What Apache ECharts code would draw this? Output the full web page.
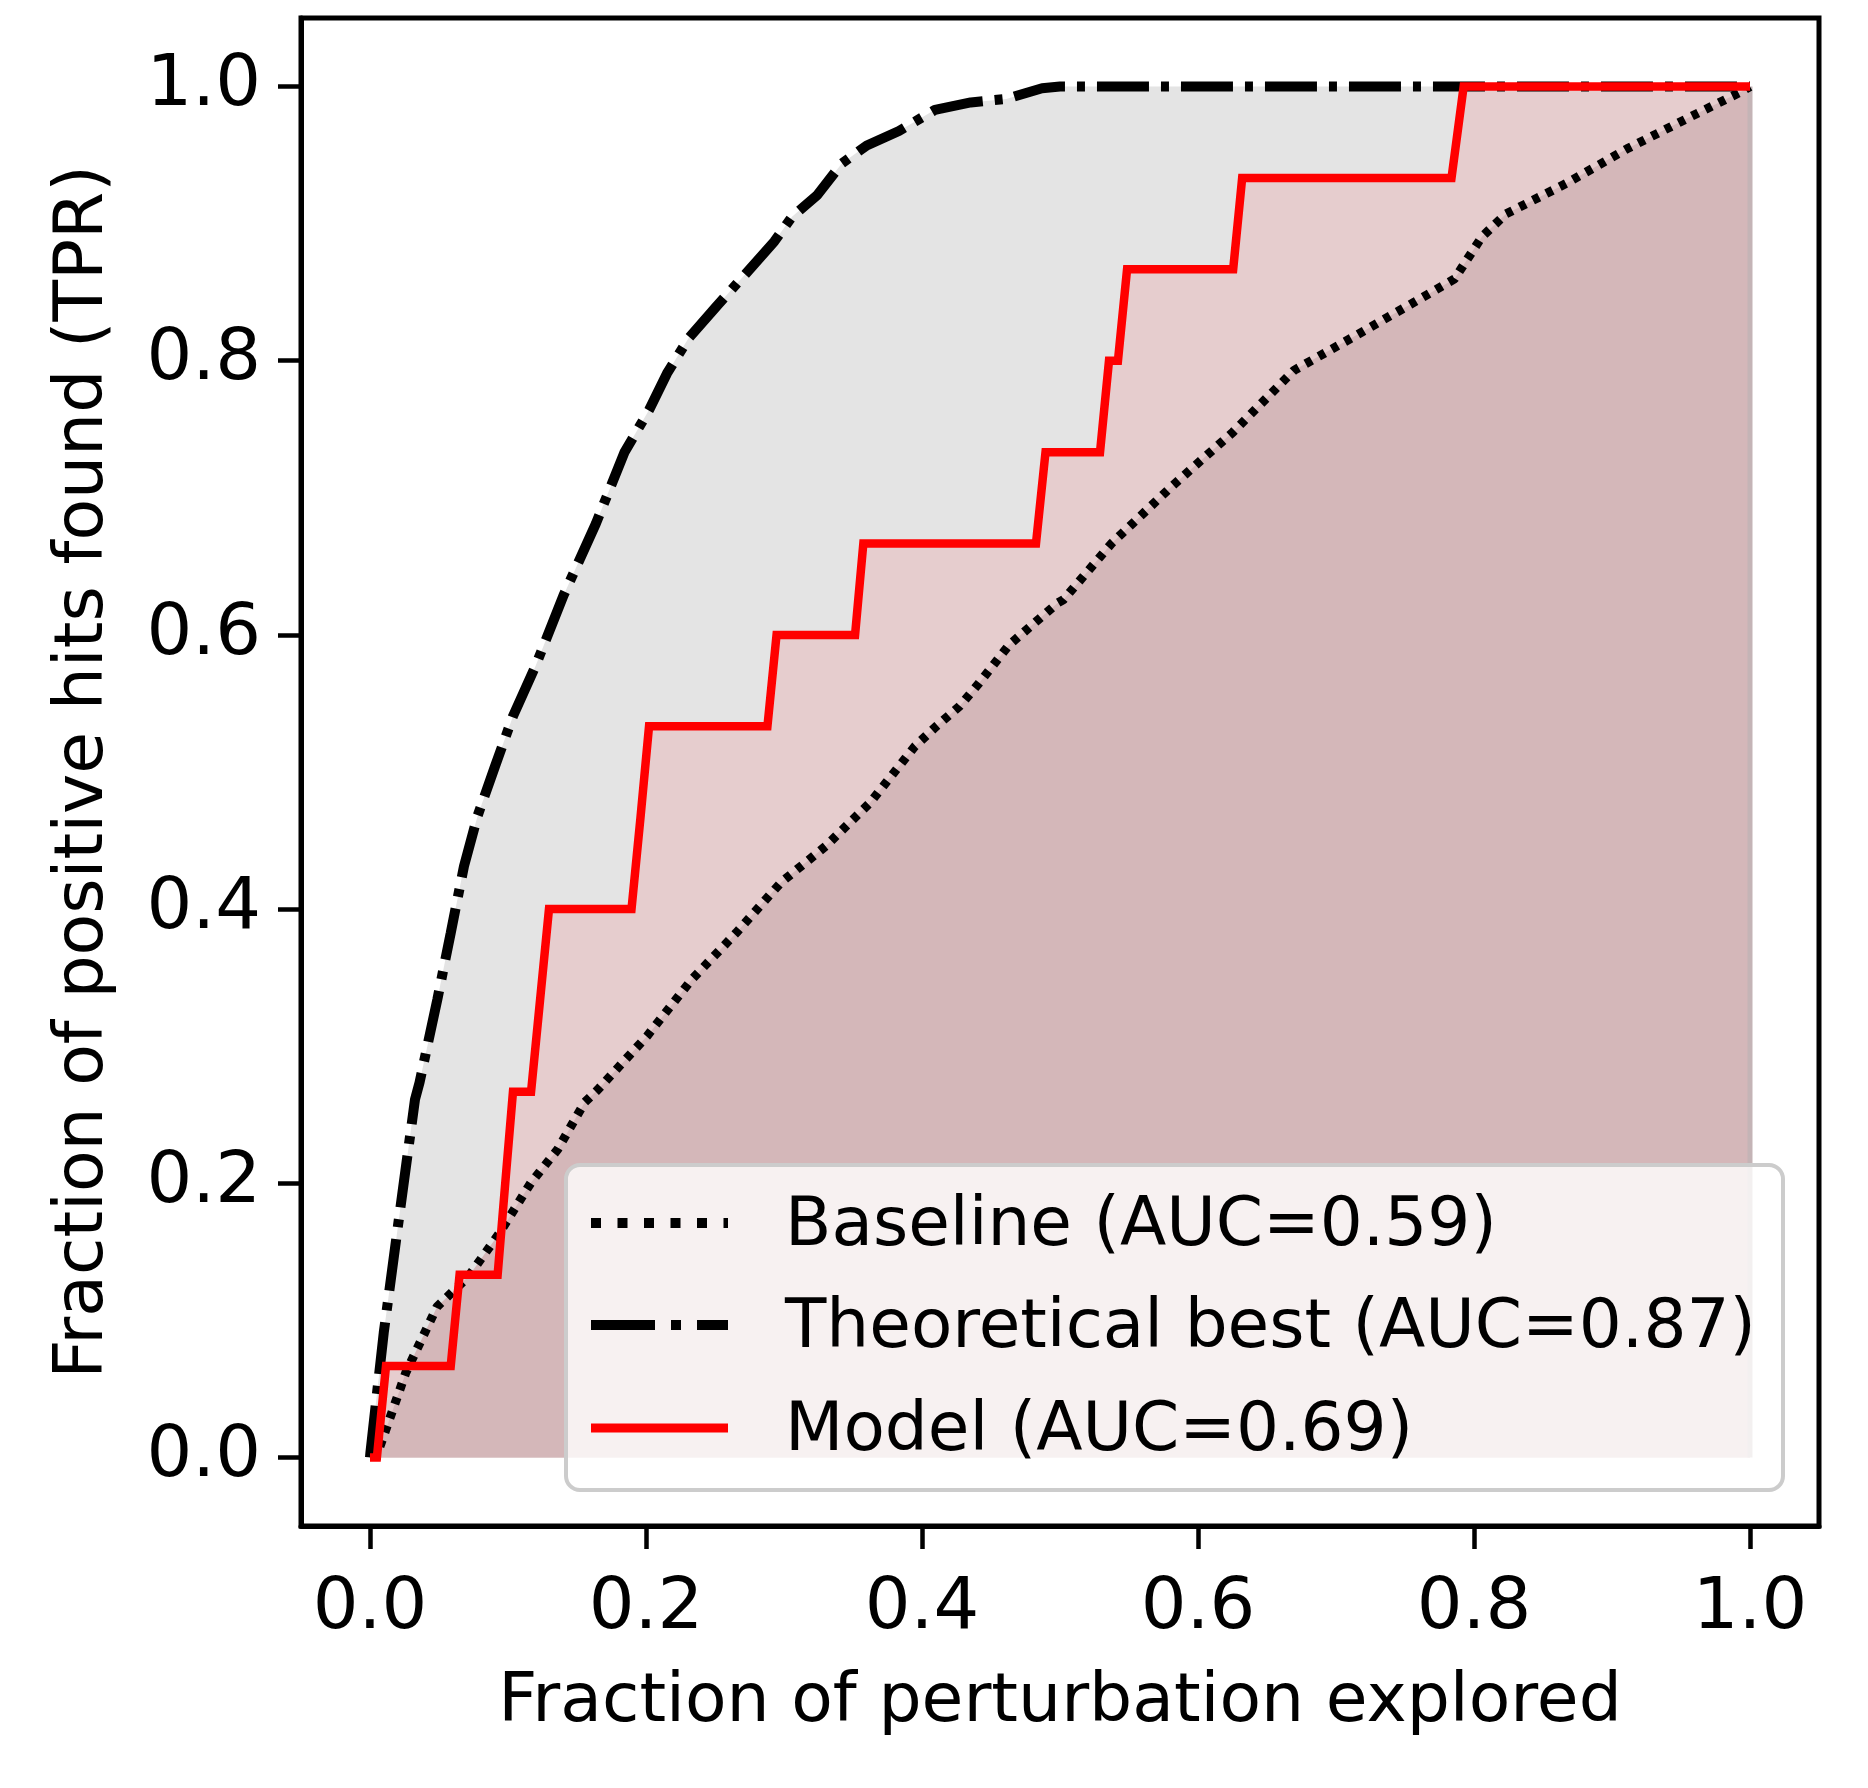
<!DOCTYPE html>
<html>
<head>
<meta charset="utf-8">
<script src="https://cdn.jsdelivr.net/npm/echarts@6/dist/echarts.min.js"></script>
<style>
html,body{margin:0;padding:0;background:#fff;}
#chart{width:1868px;height:1788px;}
</style>
</head>
<body>
<div id="chart"></div>
<script>
// ---- data ----
const xTicks = [0, 0.2, 0.4, 0.6, 0.8, 1.0];
const yTicks = [0, 0.2, 0.4, 0.6, 0.8, 1.0];

const baselineX = [0, 0.0065, 0.026, 0.0486, 0.0714, 0.094, 0.1167, 0.136, 0.1555, 0.1652, 0.2007, 0.2332, 0.2653, 0.2978, 0.3302, 0.3623, 0.3949, 0.410, 0.4273, 0.4412, 0.463, 0.4983, 0.5026, 0.5377, 0.5817, 0.6254, 0.6696, 0.7134, 0.7573, 0.7859, 0.8057, 0.8232, 0.8672, 0.9109, 0.955, 0.9942, 1.0];
const baselineY = [0, 0.006, 0.062, 0.110, 0.132, 0.164, 0.2005, 0.2247, 0.259, 0.2684, 0.3073, 0.3487, 0.3826, 0.4194, 0.4459, 0.4775, 0.5188, 0.533, 0.548, 0.5646, 0.5926, 0.6233, 0.6258, 0.6671, 0.709, 0.748, 0.793, 0.8178, 0.8431, 0.8597, 0.8904, 0.9071, 0.9295, 0.9546, 0.977, 0.9965, 1.0];

const bestX = [0, 0.0003, 0.00996, 0.0196, 0.0326, 0.0359, 0.0488, 0.0585, 0.0681, 0.0779, 0.0906, 0.1036, 0.1199, 0.1403, 0.1636, 0.1843, 0.2024, 0.2152, 0.2309, 0.2514, 0.2722, 0.293, 0.3058, 0.324, 0.342, 0.360, 0.3833, 0.4094, 0.4353, 0.4611, 0.487, 0.500, 1.0];
const bestY = [0, 0.0036, 0.091, 0.164, 0.2611, 0.2735, 0.3341, 0.3826, 0.4313, 0.4678, 0.5042, 0.5407, 0.5772, 0.629, 0.681, 0.733, 0.7644, 0.7907, 0.8165, 0.840, 0.8634, 0.887, 0.905, 0.9207, 0.944, 0.957, 0.9676, 0.983, 0.9884, 0.991, 0.9988, 1.0, 1.0];

const modelX = [0, 0.005, 0.0116, 0.0585, 0.0649, 0.0925, 0.098, 0.1036, 0.1167, 0.1232, 0.1297, 0.1895, 0.196, 0.2022, 0.288, 0.2946, 0.3515, 0.3575, 0.4826, 0.4895, 0.529, 0.5355, 0.542, 0.5486, 0.6255, 0.632, 0.7837, 0.7925, 1.0];
const modelY = [0, 0, 0.0667, 0.0667, 0.1333, 0.1333, 0.2, 0.2667, 0.2667, 0.3333, 0.4, 0.4, 0.4667, 0.5333, 0.5333, 0.6, 0.6, 0.6667, 0.6667, 0.7333, 0.7333, 0.8, 0.8, 0.8667, 0.8667, 0.9333, 0.9333, 1.0, 1.0];

const edgeX = [1.0, 1.0];
const edgeY = [0, 1.0];

const seriesNames = ['Baseline (AUC=0.59)', 'Theoretical best (AUC=0.87)', 'Model (AUC=0.69)'];
const xTitle = 'Fraction of perturbation explored';
const yTitle = 'Fraction of positive hits found (TPR)';

// ---- build ----
const zip = (xs, ys) => xs.map((x, i) => [x, ys[i]]);
const FONT = 'DejaVu Sans';
const dottedPlot = [7, 8];
const dashDotPlot = [52, 12, 8, 12];
const dottedLegend = [10, 16.5];
const dashDotLegend = [64, 16, 10, 16];

const chart = echarts.init(document.getElementById('chart'), null, {renderer: 'canvas'});

function fill(name, xs, ys, color, z) {
  return {
    name: name, type: 'line', data: zip(xs, ys), symbol: 'none', showSymbol: false,
    lineStyle: {width: 0, opacity: 0}, areaStyle: {color: color, opacity: 1, origin: 'auto'},
    z: z, silent: true, animation: false
  };
}

// legend box (drawn with graphic elements)
const LG = {x: 566, y: 1165, w: 1217, h: 325, hx1: 591, hx2: 728, tx: 785,
  handleRows: [1223, 1325, 1428], textRows: [1227, 1329, 1432]};
const legendStyles = [
  {stroke: '#000', lineWidth: 10, lineDash: dottedLegend},
  {stroke: '#000', lineWidth: 10, lineDash: dashDotLegend},
  {stroke: '#ff0000', lineWidth: 9}
];
const graphics = [{
  type: 'rect', z: 100, silent: true,
  shape: {x: LG.x, y: LG.y, width: LG.w, height: LG.h, r: 14},
  style: {fill: 'rgba(255,255,255,0.8)', stroke: '#cccccc', lineWidth: 4}
}];
seriesNames.forEach((nm, i) => {
  graphics.push({
    type: 'line', z: 101, silent: true,
    shape: {x1: LG.hx1, y1: LG.handleRows[i], x2: LG.hx2, y2: LG.handleRows[i]},
    style: Object.assign({lineCap: 'butt'}, legendStyles[i])
  });
  graphics.push({
    type: 'text', z: 101, silent: true,
    style: {text: nm, x: LG.tx, y: LG.textRows[i], fontSize: 67.7, fontFamily: FONT, fill: '#000',
      verticalAlign: 'middle', textVerticalAlign: 'middle', align: 'left'}
  });
});

const option = {
  backgroundColor: '#ffffff',
  animation: false,
  grid: {left: 301, top: 18, right: 49, bottom: 262, show: true, borderColor: '#000', borderWidth: 5, backgroundColor: 'transparent'},
  xAxis: {
    type: 'value', min: -0.05, max: 1.05,
    name: xTitle, nameLocation: 'middle', nameGap: 143,
    nameTextStyle: {fontFamily: FONT, fontSize: 68, color: '#000'},
    axisLine: {show: true, onZero: false, lineStyle: {color: '#000', width: 5}},
    axisTick: {show: true, length: 23, lineStyle: {color: '#000', width: 4.5}, customValues: xTicks},
    axisLabel: {fontFamily: FONT, fontSize: 72, color: '#000', margin: 47, customValues: xTicks,
      formatter: v => Number(v).toFixed(1)},
    splitLine: {show: false}
  },
  yAxis: {
    type: 'value', min: -0.05, max: 1.05,
    name: yTitle, nameLocation: 'middle', nameGap: 183, nameRotate: 90,
    nameTextStyle: {fontFamily: FONT, fontSize: 68, color: '#000'},
    axisLine: {show: true, onZero: false, lineStyle: {color: '#000', width: 5}},
    axisTick: {show: true, length: 23, lineStyle: {color: '#000', width: 4.5}, customValues: yTicks},
    axisLabel: {fontFamily: FONT, fontSize: 72, color: '#000', margin: 40, customValues: yTicks,
      formatter: v => Number(v).toFixed(1)},
    splitLine: {show: false}
  },
  graphic: graphics,
  series: [
    fill('bestFill', bestX, bestY, '#e4e4e4', 1),
    fill('modelFill', modelX, modelY, '#e6cdce', 1),
    fill('baseFill', baselineX, baselineY, '#d4b7b9', 1),
    {name: 'edge', type: 'line', data: zip(edgeX, edgeY), symbol: 'none', silent: true,
      lineStyle: {color: '#c4b4b6', width: 5}, z: 2},
    {name: seriesNames[0], type: 'line', data: zip(baselineX, baselineY), symbol: 'none', showSymbol: false,
      lineStyle: {color: '#000', width: 9, type: dottedPlot, cap: 'butt'}, itemStyle: {color: '#000'}, z: 3},
    {name: seriesNames[1], type: 'line', data: zip(bestX, bestY), symbol: 'none', showSymbol: false,
      lineStyle: {color: '#000', width: 10, type: dashDotPlot, cap: 'butt'}, itemStyle: {color: '#000'}, z: 3},
    {name: seriesNames[2], type: 'line', data: zip(modelX, modelY), symbol: 'none', showSymbol: false,
      lineStyle: {color: '#ff0000', width: 8.5, type: 'solid', join: 'miter'}, itemStyle: {color: '#ff0000'}, z: 4}
  ]
};
chart.setOption(option);
</script>
</body>
</html>
